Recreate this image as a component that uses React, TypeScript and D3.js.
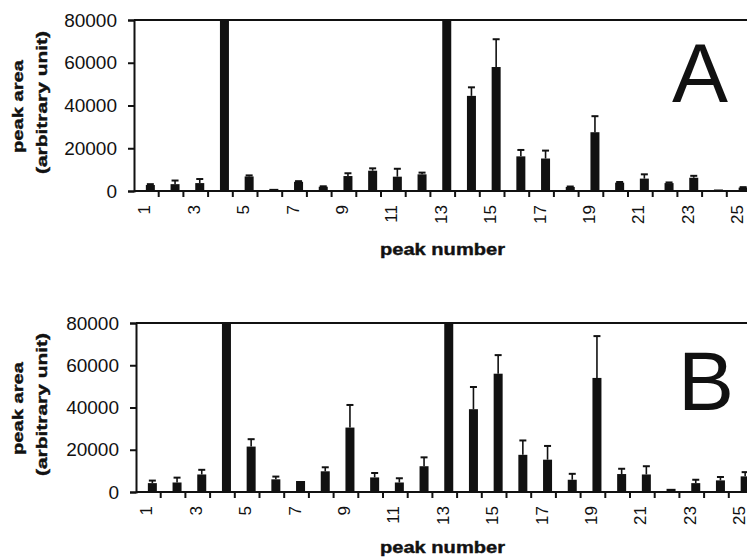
import { useRef, useEffect } from 'react'
import { select, scaleBand, scaleLinear, axisLeft, axisBottom } from 'd3'

const peaks = [
  '1', '2', '3', '4', '5', '6', '7', '8', '9', '10', '11', '12', '13',
  '14', '15', '16', '17', '18', '19', '20', '21', '22', '23', '24', '25',
]

// panel A: mean peak area and upper error
const valuesA = [
  2800, 3200, 3700, 80000, 6800, 1000, 4300, 2000, 7000, 9500, 6700, 7800, 80000,
  44500, 58000, 16200, 15200, 1900, 27500, 3900, 5800, 3700, 6200, 700, 1600,
]
const errorsA = [
  400, 1700, 1900, 0, 500, 0, 300, 200, 1300, 1100, 3700, 800, 0,
  4000, 13000, 3000, 3700, 200, 7500, 300, 2000, 300, 900, 0, 200,
]

// panel B
const valuesB = [
  4200, 4500, 8300, 80000, 21500, 6000, 5200, 9800, 30500, 6900, 4500, 12200, 80000,
  39200, 56000, 17600, 15300, 5800, 54000, 8500, 8300, 1500, 4200, 5500, 7400,
]
const errorsB = [
  1200, 2300, 2200, 0, 3500, 1300, 0, 1900, 10700, 2100, 2000, 4200, 0,
  10500, 8800, 6800, 6500, 2800, 19800, 2500, 3900, 0, 1600, 1600, 2000,
]

const yTicks = [0, 20000, 40000, 60000, 80000]
const labelTicks = ['1', '3', '5', '7', '9', '11', '13', '15', '17', '19', '21', '23', '25']

const font = '"Liberation Sans", Arial, Helvetica, sans-serif'

const App = () => {
  const svgRef = useRef(null)

  function renderPanel(svg, cfg) {
    const { values, errors, left, top, bottom, letter, letterX, letterY, titleY } = cfg
    const step = 24.7
    const g = svg.append('g')

    const xScale = scaleBand()
      .domain(peaks)
      .range([left, left + step * peaks.length])
      .padding(0)

    const yScale = scaleLinear().domain([0, 80000]).range([bottom, top])

    // top frame line
    g.append('line')
      .attr('x1', left)
      .attr('x2', 747)
      .attr('y1', top)
      .attr('y2', top)
      .attr('stroke', '#111')
      .attr('stroke-width', 2)

    // bars
    const bw = xScale.bandwidth()
    g.selectAll('rect.bar')
      .data(peaks)
      .join('rect')
      .attr('class', 'bar')
      .attr('x', (d) => xScale(d) + bw / 2 - 0.5)
      .attr('width', 9)
      .attr('y', (d, i) => yScale(Math.min(values[i], 80000)))
      .attr('height', (d, i) => bottom - yScale(Math.min(values[i], 80000)))
      .attr('fill', '#111')

    // error bars (upper only)
    const errIdx = peaks.map((d, i) => i).filter((i) => errors[i] > 0)
    g.selectAll('line.err')
      .data(errIdx)
      .join('line')
      .attr('class', 'err')
      .attr('x1', (i) => xScale(peaks[i]) + bw / 2 + 4)
      .attr('x2', (i) => xScale(peaks[i]) + bw / 2 + 4)
      .attr('y1', (i) => yScale(values[i]))
      .attr('y2', (i) => yScale(values[i] + errors[i]))
      .attr('stroke', '#111')
      .attr('stroke-width', 1.6)
    g.selectAll('line.cap')
      .data(errIdx)
      .join('line')
      .attr('class', 'cap')
      .attr('x1', (i) => xScale(peaks[i]) + bw / 2 + 0.5)
      .attr('x2', (i) => xScale(peaks[i]) + bw / 2 + 7.5)
      .attr('y1', (i) => yScale(values[i] + errors[i]))
      .attr('y2', (i) => yScale(values[i] + errors[i]))
      .attr('stroke', '#111')
      .attr('stroke-width', 2)

    // y axis
    const yAxis = axisLeft(yScale)
      .tickValues(yTicks)
      .tickSize(6)
      .tickPadding(11)
      .tickFormat((d) => String(d))
    const yAxisGroup = g.append('g').attr('transform', `translate(${left},0)`).call(yAxis)
    yAxisGroup.select('.domain').attr('stroke', '#111').attr('stroke-width', 2)
    yAxisGroup.selectAll('.tick line').attr('stroke', '#111').attr('stroke-width', 2)
    yAxisGroup
      .selectAll('.tick text')
      .attr('font-family', font)
      .attr('font-size', 19)
      .attr('fill', '#111')

    // x axis: line, ticks between categories, odd labels
    g.append('line')
      .attr('x1', left)
      .attr('x2', 747)
      .attr('y1', bottom)
      .attr('y2', bottom)
      .attr('stroke', '#111')
      .attr('stroke-width', 2)

    g.selectAll('line.xtick')
      .data(peaks)
      .join('line')
      .attr('class', 'xtick')
      .attr('x1', (d) => xScale(d) + bw)
      .attr('x2', (d) => xScale(d) + bw)
      .attr('y1', bottom)
      .attr('y2', bottom + 6)
      .attr('stroke', '#111')
      .attr('stroke-width', 2)

    const xAxis = axisBottom(xScale).tickValues(labelTicks).tickSize(0).tickPadding(0)
    const xAxisGroup = g.append('g').attr('transform', `translate(0,${bottom})`).call(xAxis)
    xAxisGroup.select('.domain').remove()
    xAxisGroup
      .selectAll('.tick text')
      .attr('font-family', font)
      .attr('font-size', 17)
      .attr('fill', '#111')
      .attr('transform', 'rotate(-90)')
      .attr('text-anchor', 'end')
      .attr('x', -14)
      .attr('y', -2)
      .attr('dy', '0.35em')

    // axis titles
    g.append('text')
      .text('peak number')
      .attr('x', 380)
      .attr('y', titleY)
      .attr('font-family', font)
      .attr('font-weight', 'bold')
      .attr('font-size', 16)
      .attr('textLength', 125)
      .attr('lengthAdjust', 'spacingAndGlyphs')
      .attr('fill', '#111')
      .attr('stroke', '#111')
      .attr('stroke-width', 0.4)

    const midY = (top + bottom) / 2
    g.append('text')
      .text('peak area')
      .attr('transform', `translate(23,${midY + 1}) rotate(-90)`)
      .attr('text-anchor', 'middle')
      .attr('font-family', font)
      .attr('font-weight', 'bold')
      .attr('font-size', 15)
      .attr('textLength', 93)
      .attr('lengthAdjust', 'spacingAndGlyphs')
      .attr('fill', '#111')
      .attr('stroke', '#111')
      .attr('stroke-width', 0.4)
    g.append('text')
      .text('(arbitrary unit)')
      .attr('transform', `translate(47,${midY - 3}) rotate(-90)`)
      .attr('text-anchor', 'middle')
      .attr('font-family', font)
      .attr('font-weight', 'bold')
      .attr('font-size', 15)
      .attr('textLength', 143)
      .attr('lengthAdjust', 'spacingAndGlyphs')
      .attr('fill', '#111')
      .attr('stroke', '#111')
      .attr('stroke-width', 0.4)

    // panel letter
    g.append('text')
      .text(letter)
      .attr('x', letterX)
      .attr('y', letterY)
      .attr('font-family', font)
      .attr('font-size', 84)
      .attr('fill', '#111')
  }

  useEffect(() => {
    const svg = select(svgRef.current)
    svg.selectAll('*').remove()
    renderPanel(svg, {
      values: valuesA,
      errors: errorsA,
      left: 134,
      top: 20,
      bottom: 191,
      letter: 'A',
      letterX: 672,
      letterY: 102,
      titleY: 255,
    })
    renderPanel(svg, {
      values: valuesB,
      errors: errorsB,
      left: 136,
      top: 323,
      bottom: 492,
      letter: 'B',
      letterX: 678,
      letterY: 410,
      titleY: 553,
    })
  }, [])

  return (
    <div>
      <svg
        ref={svgRef}
        width="747"
        height="559"
        style={{ position: 'absolute', left: 0, top: 0, background: '#fff' }}
      ></svg>
    </div>
  )
}

export default App
